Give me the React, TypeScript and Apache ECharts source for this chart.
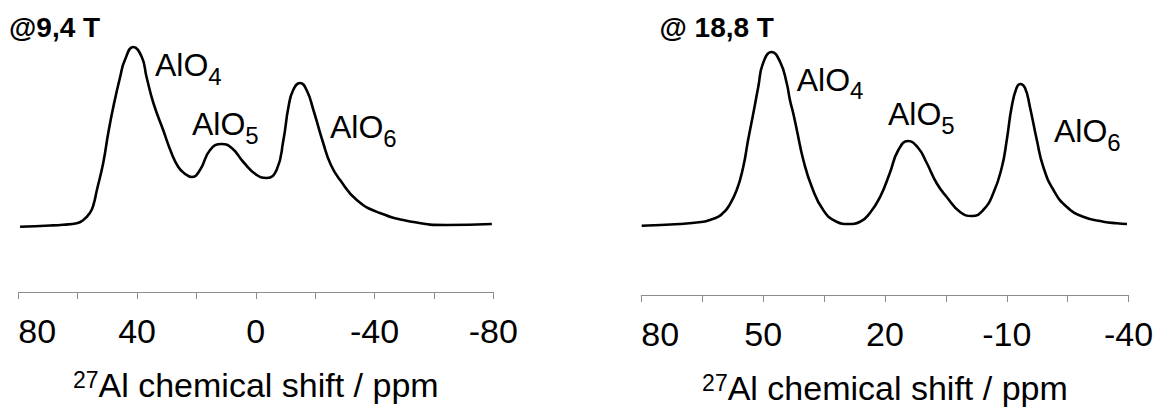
import React, { useEffect, useRef } from "react";
import * as echarts from "echarts";

// ---- data ----
const leftTitle = "@9,4 T";
const rightTitle = "@ 18,8 T";
const axisTitleSup = "27";
const axisTitleMain = "Al chemical shift / ppm";

// 9.4 T spectrum: chemical shift (ppm) and intensity (a.u.)
const leftPpm = [79.4, 69.3, 64.9, 60.3, 58.1, 55.9, 54.7, 53.6, 51.4, 49.7, 48.0, 45.7, 44.1, 41.3, 38.4, 36.8, 34.5, 31.2, 28.4, 26.1, 24.2, 21.6, 18.8, 15.4, 11.5, 8.1, 4.2, -0.3, -3.7, -7.0, -9.3, -11.0, -12.6, -14.9, -17.1, -19.4, -22.7, -25.3, -28.4, -34.0, -41.8, -53.1, -64.3, -79.5];
const leftIntensity = [-0.7, 0.5, 1.3, 2.7, 6, 13, 21, 35, 63, 93, 119, 149, 166, 179, 169, 149, 123, 96, 73, 59, 53, 49, 56, 76, 82, 78, 64, 51, 48, 56, 86, 119, 136, 143, 136, 116, 83, 61, 46, 26, 13, 4, 1, 2];

// 18.8 T spectrum
const rightPpm = [79.9, 70.5, 64.7, 63.1, 61.0, 59.8, 58.6, 56.5, 54.9, 53.7, 52.4, 51.2, 50.0, 47.9, 45.8, 44.2, 43.4, 42.6, 41.7, 40.1, 38.0, 35.2, 31.9, 29.0, 26.1, 23.7, 21.2, 18.8, 16.7, 14.3, 11.8, 9.7, 7.3, 4.8, 1.5, -1.4, -4.2, -6.7, -8.8, -10.0, -11.2, -12.4, -13.3, -14.5, -15.7, -17.4, -19.0, -21.5, -24.8, -28.8, -33.8, -37.1, -39.6];
const rightIntensity = [0.3, 2, 4.3, 6, 9.3, 13.3, 19, 36, 59, 86, 113, 139, 163, 174, 164, 143, 126, 113, 96, 66, 39, 16, 4.3, 2, 4.3, 13, 29, 53, 76, 85, 78, 63, 43, 29, 14, 10, 16, 33, 59, 86, 119, 138, 142, 138, 119, 86, 59, 36, 19, 9.3, 4.3, 2.7, 2];

// axis ticks and labels
const leftTicks = [80, 60, 40, 20, 0, -20, -40, -60, -80];
const leftTickLabels = [80, 40, 0, -40, -80];
const rightTicks = [80, 65, 50, 35, 20, 5, -10, -25, -40];
const rightTickLabels = [80, 50, 20, -10, -40];

// peak labels
const peakNames = ["AlO", "AlO", "AlO"];
const peakSubs = ["4", "5", "6"];

const FONT = "'Liberation Sans', Arial, Helvetica, sans-serif";

export default function App() {
  const ref = useRef<HTMLDivElement>(null);

  useEffect(() => {
    if (!ref.current) return;
    const chart = echarts.init(ref.current, null, { renderer: "svg" });

    const xAxisBase = (min: number, max: number, ticks: number[], labels: number[]) => ({
      type: "value",
      min,
      max,
      inverse: true,
      splitLine: { show: false },
      axisLine: { show: true, onZero: false, lineStyle: { color: "#8c8c8c", width: 1 } },
      axisTick: { show: true, inside: false, length: 7, customValues: ticks, lineStyle: { color: "#8c8c8c", width: 1 } },
      axisLabel: {
        show: true,
        customValues: labels,
        margin: 22,
        color: "#000",
        fontSize: 34,
        fontFamily: FONT,
        alignMinLabel: "left",
        alignMaxLabel: "center",
        hideOverlap: false,
        formatter: (v: number) => String(v),
      },
      name: `{sup|${axisTitleSup}}{m|${axisTitleMain}}`,
      nameLocation: "middle",
      nameGap: 76,
      nameTextStyle: {
        color: "#000",
        fontFamily: FONT,
        rich: {
          sup: { fontSize: 23, lineHeight: 20, verticalAlign: "top", fontFamily: FONT, color: "#000" },
          m: { fontSize: 34, lineHeight: 35, verticalAlign: "top", fontFamily: FONT, color: "#000" },
        },
      },
    });

    const label = (x: number, y: number, i: number) => ({
      type: "text",
      x,
      y,
      style: {
        text: `{a|${peakNames[i]}}{s|${peakSubs[i]}}`,
        verticalAlign: "top",
        align: "left",
        rich: {
          a: { fontSize: 32, lineHeight: 34, verticalAlign: "top", fontFamily: FONT, fill: "#000", color: "#000" },
          s: { fontSize: 24, lineHeight: 24, verticalAlign: "top", padding: [15, 0, 0, 0], fontFamily: FONT, fill: "#000", color: "#000" },
        },
      },
    });

    const title = (x: number, y: number, text: string) => ({
      type: "text",
      x,
      y,
      style: { text, font: `bold 28px ${FONT}`, fill: "#000", verticalAlign: "top", align: "left" },
    });

    chart.setOption({
      animation: false,
      backgroundColor: "#fff",
      grid: [
        { left: 18.3, top: 40, width: 475, height: 252, outerBoundsMode: "none", containLabel: false },
        { left: 641.3, top: 40, width: 487.3, height: 255, outerBoundsMode: "none", containLabel: false },
      ],
      xAxis: [
        { gridIndex: 0, ...xAxisBase(-80, 80, leftTicks, leftTickLabels) },
        { gridIndex: 1, ...xAxisBase(-40, 80, rightTicks, rightTickLabels) },
      ],
      yAxis: [
        { gridIndex: 0, type: "value", min: -66, max: 186, show: false, splitLine: { show: false } },
        { gridIndex: 1, type: "value", min: -69, max: 186, show: false, splitLine: { show: false } },
      ],
      series: [
        {
          type: "line",
          xAxisIndex: 0,
          yAxisIndex: 0,
          data: leftPpm.map((p, i) => [p, leftIntensity[i]]),
          showSymbol: false,
          smooth: 0.5,
          lineStyle: { color: "#000", width: 2.6 },
        },
        {
          type: "line",
          xAxisIndex: 1,
          yAxisIndex: 1,
          data: rightPpm.map((p, i) => [p, rightIntensity[i]]),
          showSymbol: false,
          smooth: 0.5,
          lineStyle: { color: "#000", width: 2.6 },
        },
      ],
      graphic: [
        title(9, 13, leftTitle),
        title(659.5, 13.5, rightTitle),
        label(155, 49, 0),
        label(192, 108, 1),
        label(330, 111, 2),
        label(796.7, 63.5, 0),
        label(888, 98, 1),
        label(1054, 115, 2),
      ],
    });

    return () => chart.dispose();
  }, []);

  return (
    <div
      ref={ref}
      style={{ position: "fixed", left: 0, top: 0, width: 1158, height: 408, background: "#fff" }}
    />
  );
}
